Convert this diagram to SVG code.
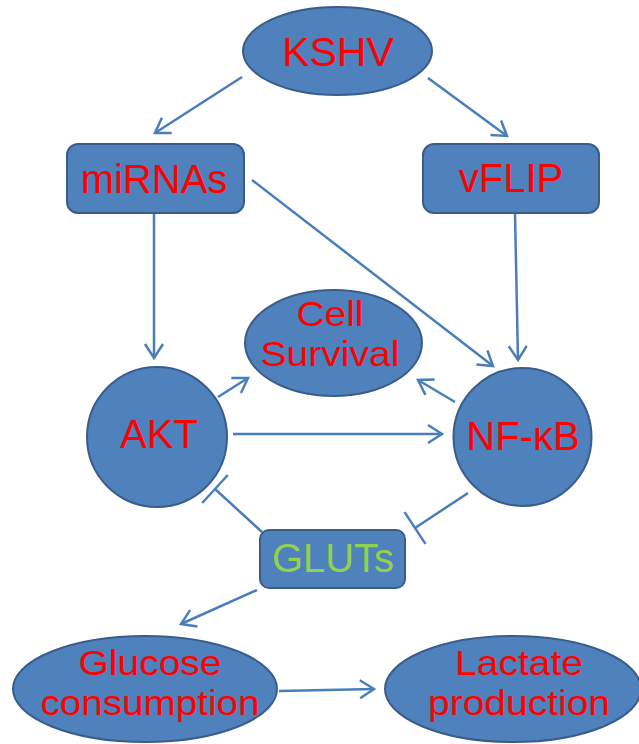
<svg xmlns="http://www.w3.org/2000/svg" width="639" height="744" viewBox="0 0 639 744">
<style>
.n{fill:#4F81BD;stroke:#385D8A;stroke-width:2}
.t{font-family:"Liberation Sans",Arial,sans-serif;font-size:40px;fill:#FF0000;text-anchor:middle}
.s{font-size:35px}
.g{fill:#92D050}
.c{stroke:#4A7EBB;stroke-width:2.5;fill:none}
.a{marker-end:url(#arr)}
.b{marker-end:url(#bar)}
</style>
<defs>
<marker id="arr" markerUnits="userSpaceOnUse" markerWidth="30" markerHeight="30" viewBox="-20 -15 30 30" refX="0" refY="0" orient="auto" overflow="visible">
<path d="M-14,-9 L0,0 L-14,9" fill="none" stroke="#4A7EBB" stroke-width="2.5" stroke-linejoin="miter"/>
</marker>
<marker id="bar" markerUnits="userSpaceOnUse" markerWidth="40" markerHeight="40" viewBox="-20 -20 40 40" refX="0" refY="0" orient="auto" overflow="visible">
<path d="M0,-19 L0,19" fill="none" stroke="#4A7EBB" stroke-width="2.5"/>
</marker>
</defs>
<g id="connectors">
<line class="c a" x1="242" y1="77" x2="155" y2="133"/>
<line class="c a" x1="428" y1="78" x2="507" y2="136"/>
<line class="c a" x1="154" y1="213" x2="154" y2="358"/>
<line class="c a" x1="515" y1="213" x2="518" y2="360"/>
<line class="c a" x1="252" y1="180" x2="493" y2="366"/>
<line class="c a" x1="218" y1="397" x2="248" y2="378"/>
<line class="c a" x1="233" y1="434" x2="442" y2="434"/>
<line class="c a" x1="455" y1="402" x2="418" y2="380"/>
<line class="c b" x1="262" y1="532" x2="215" y2="489"/>
<line class="c b" x1="468" y1="493" x2="415" y2="528"/>
<line class="c a" x1="257" y1="590" x2="181" y2="624"/>
<line class="c a" x1="279" y1="691" x2="374" y2="689"/>
</g>
<g id="kshv">
<ellipse class="n" cx="337.5" cy="51" rx="94.5" ry="44"/>
<text class="t" x="338" y="66" style="font-size:41px">KSHV</text>
</g>
<g id="mirnas">
<rect class="n" x="67" y="144" width="177" height="69" rx="11"/>
<text class="t" x="154" y="193">miRNAs</text>
</g>
<g id="vflip">
<rect class="n" x="423" y="144" width="176" height="69" rx="11"/>
<text class="t" x="511" y="192">vFLIP</text>
</g>
<g id="cellsurvival">
<ellipse class="n" cx="333.5" cy="343" rx="88.5" ry="53"/>
<text class="t s" x="330" y="326" textLength="67" lengthAdjust="spacingAndGlyphs">Cell</text>
<text class="t s" x="330" y="366" textLength="139" lengthAdjust="spacingAndGlyphs">Survival</text>
</g>
<g id="akt">
<circle class="n" cx="157" cy="437" r="70"/>
<text class="t" x="159" y="448">AKT</text>
</g>
<g id="nfkb">
<circle class="n" cx="522.5" cy="437" r="69"/>
<text class="t" x="523" y="450">NF-κB</text>
</g>
<g id="gluts">
<rect class="n" x="260" y="530" width="145" height="58" rx="9"/>
<text class="t g" x="333" y="572">GLUTs</text>
</g>
<g id="glucose">
<ellipse class="n" cx="145" cy="689" rx="132" ry="53"/>
<text class="t s" x="150" y="675" textLength="143" lengthAdjust="spacingAndGlyphs">Glucose</text>
<text class="t s" x="150" y="715" textLength="219" lengthAdjust="spacingAndGlyphs">consumption</text>
</g>
<g id="lactate">
<ellipse class="n" cx="513" cy="689" rx="128" ry="53"/>
<text class="t s" x="519" y="675" textLength="128" lengthAdjust="spacingAndGlyphs">Lactate</text>
<text class="t s" x="519" y="715" textLength="182" lengthAdjust="spacingAndGlyphs">production</text>
</g>
</svg>
